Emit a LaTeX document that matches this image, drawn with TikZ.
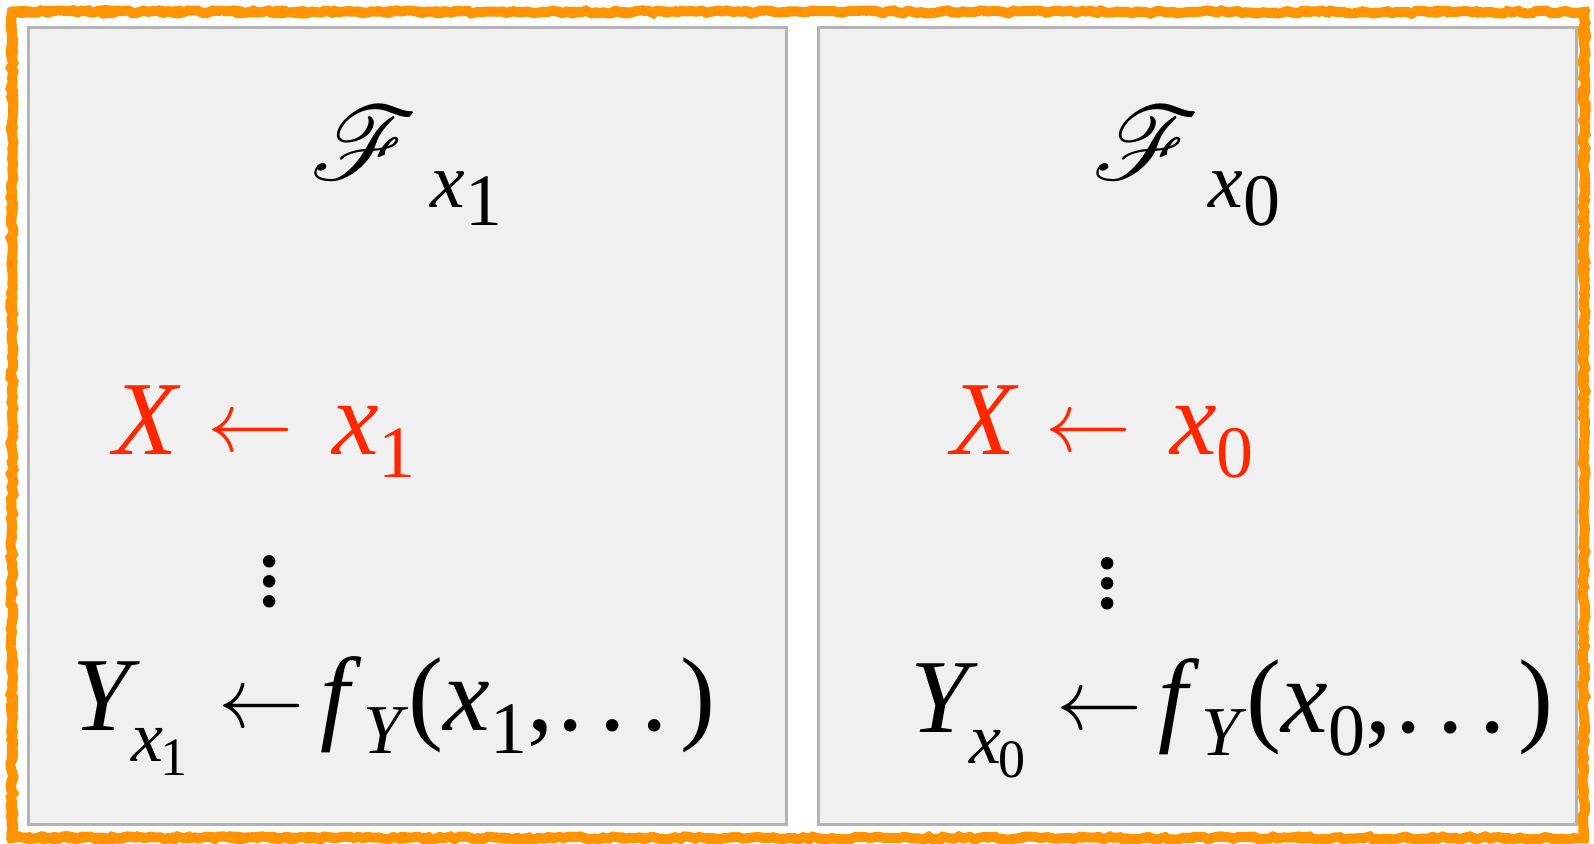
\documentclass[tikz,border=0pt]{standalone}
\usepackage{fontspec}
\setmainfont{Liberation Serif}[ItalicFont={Liberation Serif Italic}]
\usepackage{mathrsfs}
\usepackage{graphicx}
\usetikzlibrary{decorations.pathmorphing}
\definecolor{orng}{RGB}{255,148,0}
\definecolor{boxfill}{RGB}{240,240,240}
\definecolor{boxline}{RGB}{180,180,180}
\definecolor{redtxt}{RGB}{255,38,0}
\newcommand{\isub}[2]{\textit{#1}\raisebox{-0.22em}{\fontsize{37}{40}\selectfont #2}}
\newcommand{\ssub}[2]{\raisebox{-0.3em}{\fontsize{36}{40}\selectfont\textit{#1}\hspace{-0.05em}\raisebox{-0.2em}{\fontsize{27}{30}\selectfont #2}}}
\newcommand{\larr}[2]{\hspace{#1}\raisebox{0.02em}{\scalebox{4.3}{\fontsize{10}{12}\selectfont$\leftarrow$}}\hspace{#2}}
\newcommand{\bigscr}{\scalebox{5.2}{\fontsize{10}{12}\selectfont$\mathscr{F}$}}
\newcommand{\bigdots}{\vbox{\baselineskip=10pt\lineskip=0pt\lineskiplimit=-100pt\hbox{.}\hbox{.}\hbox{.}}}
\newcommand{\dotsx}{\hspace{0.04em}.\hspace{0.15em}.\hspace{0.15em}.\hspace{0.12em}}
\tikzset{
  panel/.style={draw=boxline,fill=boxfill,line width=1.5pt},
  big/.style={inner sep=0pt,anchor=base west,font=\fontsize{52.5}{60}\selectfont},
  sub/.style={inner sep=0pt,anchor=base west,font=\fontsize{39}{46}\selectfont},
  crayon/.style={draw=orng,line width=5pt,decorate,decoration={random steps,segment length=2.5pt,amplitude=0.8pt}}
}
\begin{document}
\begin{tikzpicture}[x=0.5pt,y=-0.5pt]
\useasboundingbox (0,0) rectangle (1594,844);
\fill[white] (0,0) rectangle (1594,844);
\draw[crayon] (12,12) -- (1584,12) -- (1584,838) -- (12,838) -- cycle;
\draw[crayon,line width=3.5pt] (14,10) -- (1586,13) -- (1583,839) -- (10,836) -- cycle;
\node[panel,minimum width=758*0.5pt,minimum height=797*0.5pt,anchor=north west,inner sep=0pt] (L) at (27,26) {};
\node[panel,minimum width=758*0.5pt,minimum height=797*0.5pt,anchor=north west,inner sep=0pt] (R) at (817,26) {};
% left panel
\node[big] (FL) at (310,180) {\bigscr};
\node[sub] (FLs) at (430,208) {\isub{x}{1}};
\node[big,text=redtxt] (XL) at (113,454) {\textit{X}\larr{0.25em}{0.37em}\isub{x}{1}};
\node[big] (DL) at (256,606) {\bigdots};
\node[big] (YL) at (72,730) {\textit{Y}\hspace{-0.08em}\ssub{x}{1}\larr{0.3em}{0.15em}\textit{f}\hspace{0.02em}\raisebox{-0.22em}{\fontsize{35}{40}\selectfont\textit{Y}}(\isub{x}{1},\dotsx)};
% right panel
\node[big] (FR) at (1092,180) {\bigscr};
\node[sub] (FRs) at (1208,208) {\isub{x}{0}};
\node[big,text=redtxt] (XR) at (951,454) {\textit{X}\larr{0.25em}{0.37em}\isub{x}{0}};
\node[big] (DR) at (1094,608) {\bigdots};
\node[big] (YR) at (910,732) {\textit{Y}\hspace{-0.08em}\ssub{x}{0}\larr{0.3em}{0.15em}\textit{f}\hspace{0.02em}\raisebox{-0.22em}{\fontsize{35}{40}\selectfont\textit{Y}}(\isub{x}{0},\dotsx)};
\end{tikzpicture}
\end{document}
